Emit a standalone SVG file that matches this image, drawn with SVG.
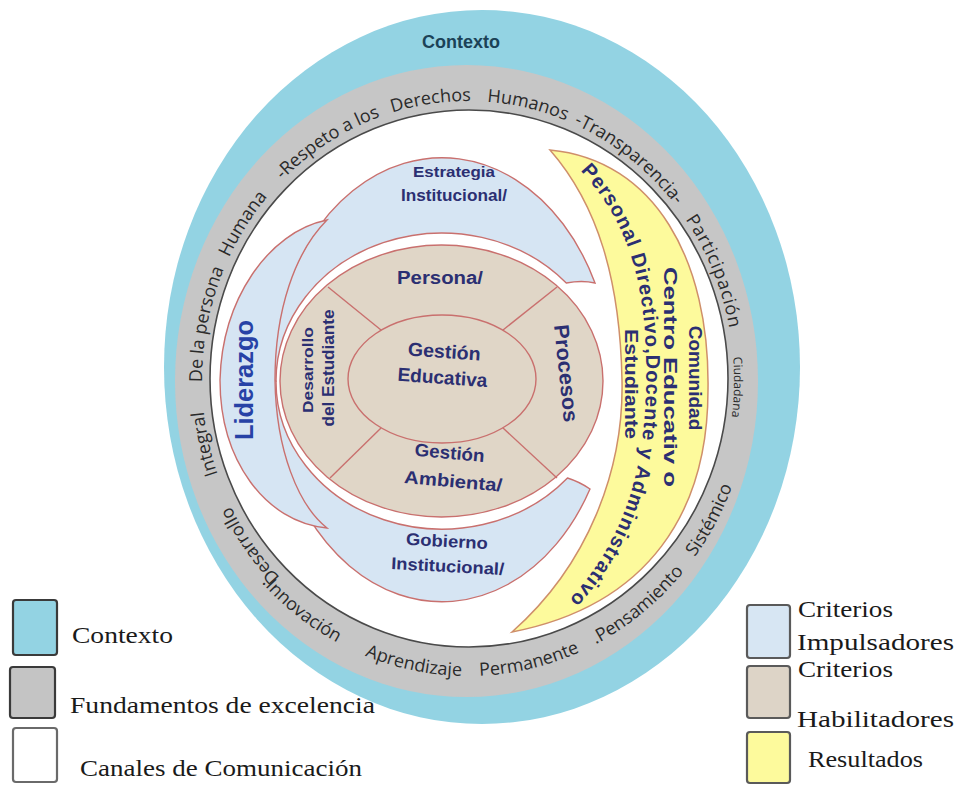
<svg xmlns="http://www.w3.org/2000/svg" width="957" height="785" viewBox="0 0 957 785">
<style>
.ring{font-family:"Open Sans","Liberation Sans",sans-serif;font-size:18px;fill:#2a2a2a}
.lbl{font-family:"Liberation Sans",Arial,sans-serif;font-weight:bold;fill:#2b2f72}
.leg{font-family:"Liberation Serif","Times New Roman",serif;font-size:24px;fill:#1a1a1a}
.red{stroke:#c9706e;stroke-width:1.4}
.imp{fill:#d6e5f3}
.hab{fill:#e0d6c7}
.box{stroke:#3a3a3a;stroke-width:2.2}
</style>
<defs>
<path id="ringTop" d="M 297,593.7 A 266 279 0 1 1 725,452.2"/>
<path id="ringBot" d="M 251.2,570.3 A 283 296 0 0 0 746.7,431.4"/>
<path id="persPath" d="M 577,167 C 636,228 648,300 646,390 C 644,470 624,555 546,622"/>
</defs>
<rect width="957" height="785" fill="#ffffff"/>

<g id="contexto">
<ellipse cx="482" cy="367" rx="318" ry="357" fill="#93d3e3"/>
<text x="461" y="48" text-anchor="middle" font-family="Liberation Sans, Arial, sans-serif" font-weight="bold" font-size="18" fill="#1b4257">Contexto</text>
</g>

<g id="fundamentos">
<ellipse cx="466.5" cy="381" rx="291.5" ry="316" fill="#c6c6c6"/>
<ellipse cx="469" cy="378.5" rx="259" ry="268.5" fill="#ffffff" stroke="#4a4a4a" stroke-width="1.6"/>
<text class="ring"><textPath href="#ringTop" startOffset="2%">Desarrollo</textPath></text>
<text class="ring"><textPath href="#ringTop" startOffset="12.4%">Integral</textPath></text>
<text class="ring"><textPath href="#ringTop" startOffset="20.4%">De la persona</textPath></text>
<text class="ring"><textPath href="#ringTop" startOffset="31.4%">Humana</textPath></text>
<text class="ring"><textPath href="#ringTop" startOffset="39.5%">-Respeto a los</textPath></text>
<text class="ring"><textPath href="#ringTop" startOffset="50.6%">Derechos</textPath></text>
<text class="ring"><textPath href="#ringTop" startOffset="58.8%">Humanos</textPath></text>
<text class="ring"><textPath href="#ringTop" startOffset="66.5%">-Transparencia-</textPath></text>
<text class="ring" letter-spacing="0.8"><textPath href="#ringTop" startOffset="79.2%">Participación</textPath></text>
<text class="ring" style="font-size:12px"><textPath href="#ringTop" startOffset="91.8%">Ciudadana</textPath></text>
<text class="ring"><textPath href="#ringBot" startOffset="2.5%">.Innovación</textPath></text>
<text class="ring"><textPath href="#ringBot" startOffset="22%">Aprendizaje</textPath></text>
<text class="ring"><textPath href="#ringBot" startOffset="40%">Permanente</textPath></text>
<text class="ring"><textPath href="#ringBot" startOffset="58.6%">.Pensamiento</textPath></text>
<text class="ring"><textPath href="#ringBot" startOffset="79%">Sistémico</textPath></text>
</g>

<g id="estrategia">
<path class="imp red" d="M 595,283 A 170 222 0 0 0 272,380 L 276,381 A 166 148 0 0 1 566.3,283 Q 582,280 595,283 Z"/>
<text class="lbl" x="454" y="177" text-anchor="middle" font-size="15" textLength="82" lengthAdjust="spacingAndGlyphs">Estrategia</text>
<text class="lbl" x="454" y="201" text-anchor="middle" font-size="16" textLength="106" lengthAdjust="spacingAndGlyphs">Institucional/</text>
</g>

<g id="gobierno">
<path class="imp red" d="M 590,489 A 170 222 0 0 1 272,380 L 276,381 A 166 148 0 0 0 567.5,478 Q 580,482 590,489 Z"/>
<g transform="rotate(3 447 560)">
<text class="lbl" x="446" y="547" text-anchor="middle" font-size="17" textLength="82" lengthAdjust="spacingAndGlyphs">Gobierno</text>
<text class="lbl" x="448" y="572" text-anchor="middle" font-size="17" textLength="113" lengthAdjust="spacingAndGlyphs">Institucional/</text>
</g>
</g>

<g id="liderazgo">
<path class="imp red" d="M 327,220 C 268,232 222,300 220,380 C 220,460 265,522 327,528 C 298,505 276,450 275,380 C 275,310 295,252 327,220 Z"/>
<text class="lbl" transform="translate(253,380) rotate(-90)" text-anchor="middle" font-size="25" style="fill:#2742a6" textLength="120" lengthAdjust="spacingAndGlyphs">Liderazgo</text>
</g>

<g id="habilitadores">
<ellipse class="hab red" cx="441.5" cy="381" rx="161.5" ry="136"/>
<g id="dividers" fill="none">
<line class="red" x1="381" y1="330" x2="328" y2="287"/>
<line class="red" x1="503" y1="330" x2="557" y2="287"/>
<line class="red" x1="381" y1="428" x2="330" y2="478"/>
<line class="red" x1="503" y1="428" x2="557" y2="478"/>
</g>
</g>

<g id="persona">
<text class="lbl" x="440" y="284" text-anchor="middle" font-size="18" textLength="86" lengthAdjust="spacingAndGlyphs">Persona/</text>
</g>

<g id="procesos">
<text class="lbl" transform="translate(559,374) rotate(84)" text-anchor="middle" font-size="21" textLength="98" lengthAdjust="spacingAndGlyphs">Procesos</text>
</g>

<g id="desarrollo-estudiante">
<text class="lbl" transform="translate(313,370) rotate(-90)" text-anchor="middle" font-size="15" textLength="86" lengthAdjust="spacingAndGlyphs">Desarrollo</text>
<text class="lbl" transform="translate(334,368) rotate(-90)" text-anchor="middle" font-size="16" textLength="117" lengthAdjust="spacingAndGlyphs">del Estudiante</text>
</g>

<g id="gestion-ambiental">
<g transform="rotate(5 450 472)">
<text class="lbl" x="448" y="459" text-anchor="middle" font-size="18" textLength="70" lengthAdjust="spacingAndGlyphs">Gestión</text>
<text class="lbl" x="454" y="487" text-anchor="middle" font-size="18" textLength="98" lengthAdjust="spacingAndGlyphs">Ambienta/</text>
</g>
</g>

<g id="gestion-educativa">
<ellipse class="hab red" cx="442" cy="379" rx="94" ry="64"/>
<g transform="rotate(4 443 370)">
<text class="lbl" x="443" y="358" text-anchor="middle" font-size="19" textLength="73" lengthAdjust="spacingAndGlyphs">Gestión</text>
<text class="lbl" x="443" y="384" text-anchor="middle" font-size="19" textLength="90" lengthAdjust="spacingAndGlyphs">Educativa</text>
</g>
</g>

<g id="resultados">
<path d="M 550,150 C 655,160 710,260 708,390 C 708,510 650,605 512,632 C 588,565 624,470 622,380 C 620,280 598,205 550,150 Z" fill="#fdfa9c" stroke="#cf8f6a" stroke-width="1.5"/>
<text class="lbl" transform="translate(689,378) rotate(90)" text-anchor="middle" font-size="19">Comunidad</text>
<text class="lbl" transform="translate(664,377) rotate(90)" text-anchor="middle" font-size="19" textLength="220" lengthAdjust="spacingAndGlyphs">Centro Educativ o</text>
<text class="lbl" font-size="20" letter-spacing="1"><textPath href="#persPath" startOffset="1%">Personal Directivo,Docente y Administrativo</textPath></text>
<text class="lbl" transform="translate(625,384) rotate(90)" text-anchor="middle" font-size="18" textLength="110" lengthAdjust="spacingAndGlyphs">Estudiante</text>
</g>

<g id="legend-left">
<rect class="box" x="13" y="600" width="44" height="55" rx="3" fill="#93d3e3"/>
<text class="leg" x="72" y="643" textLength="101" lengthAdjust="spacingAndGlyphs">Contexto</text>
<rect class="box" x="10" y="667" width="45" height="51" rx="3" fill="#c4c4c4"/>
<text class="leg" x="70" y="713" textLength="305" lengthAdjust="spacingAndGlyphs">Fundamentos de excelencia</text>
<rect x="13" y="728" width="44" height="54" rx="3" fill="#ffffff" stroke="#6a6a6a" stroke-width="2.2"/>
<text class="leg" x="80" y="776" textLength="282" lengthAdjust="spacingAndGlyphs">Canales de Comunicación</text>
</g>

<g id="legend-right">
<rect x="747" y="605" width="43" height="53" rx="3" fill="#d7e6f3" stroke="#5a5a5a" stroke-width="2.2"/>
<text class="leg" x="798" y="617" textLength="95" lengthAdjust="spacingAndGlyphs">Criterios</text>
<text class="leg" x="797" y="650" textLength="157" lengthAdjust="spacingAndGlyphs">Impulsadores</text>
<rect x="747" y="666" width="43" height="52" rx="3" fill="#ddd4c7" stroke="#5a5a5a" stroke-width="2.2"/>
<text class="leg" x="798" y="677" textLength="95" lengthAdjust="spacingAndGlyphs">Criterios</text>
<text class="leg" x="797" y="727" textLength="157" lengthAdjust="spacingAndGlyphs">Habilitadores</text>
<rect x="747" y="732" width="43" height="51" rx="3" fill="#fdfa9c" stroke="#5a5a5a" stroke-width="2.2"/>
<text class="leg" x="808" y="767" textLength="115" lengthAdjust="spacingAndGlyphs">Resultados</text>
</g>
</svg>
